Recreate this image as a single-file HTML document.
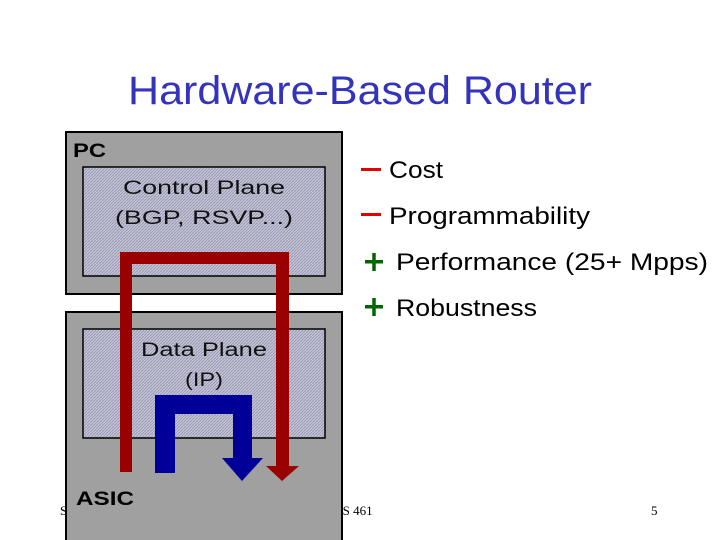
<!DOCTYPE html>
<html><head><meta charset="utf-8"><style>
html,body{margin:0;padding:0;background:#fff;}
svg{display:block;}
</style></head><body>
<svg width="720" height="540" xmlns="http://www.w3.org/2000/svg">
<defs>
<pattern id="h" width="3" height="3" patternUnits="userSpaceOnUse">
<rect width="3" height="3" fill="#c4c4dc"/>
<path d="M0,3 L3,0" stroke="#9a9aac" stroke-width="1"/>
</pattern>
</defs>
<text x="360" y="104" font-family="Liberation Sans, sans-serif" font-size="40" fill="#3333bb" text-anchor="middle" textLength="464" lengthAdjust="spacingAndGlyphs">Hardware-Based Router</text>

<text x="60" y="515" font-family="Liberation Serif, serif" font-size="13" fill="#000">S</text>
<text x="334" y="515" font-family="Liberation Serif, serif" font-size="13" fill="#000">CS 461</text>
<text x="651" y="515" font-family="Liberation Serif, serif" font-size="13" fill="#000">5</text>

<rect x="66" y="132" width="276" height="162" fill="#a0a0a0" stroke="#000" stroke-width="2"/>
<rect x="83" y="167" width="242" height="109" fill="url(#h)" stroke="#000" stroke-width="1.5"/>
<rect x="66" y="312" width="276" height="240" fill="#a0a0a0" stroke="#000" stroke-width="2"/>
<rect x="83" y="329" width="242" height="109" fill="url(#h)" stroke="#000" stroke-width="1.5"/>

<g font-family="Liberation Sans, sans-serif" font-size="19" fill="#000" font-weight="bold">
<text x="73" y="157" textLength="33" lengthAdjust="spacingAndGlyphs">PC</text>
<text x="76" y="505" textLength="58" lengthAdjust="spacingAndGlyphs">ASIC</text>
</g>
<g font-family="Liberation Sans, sans-serif" font-size="19" fill="#111" text-anchor="middle" lengthAdjust="spacingAndGlyphs">
<text x="204" y="194" textLength="162" lengthAdjust="spacingAndGlyphs">Control Plane</text>
<text x="204" y="224" textLength="178" lengthAdjust="spacingAndGlyphs">(BGP, RSVP...)</text>
<text x="204" y="356" textLength="126" lengthAdjust="spacingAndGlyphs">Data Plane</text>
<text x="204" y="386" textLength="38" lengthAdjust="spacingAndGlyphs">(IP)</text>
</g>

<path d="M120,472 L120,252 L289,252 L289,466 L276,466 L276,264 L132,264 L132,472 Z" fill="#990000"/>
<path d="M266,466 L299,466 L282,481 Z" fill="#990000"/>
<path d="M155,473 L155,395 L252,395 L252,458 L233,458 L233,414 L175,414 L175,473 Z" fill="#000099"/>
<path d="M222,458 L263,458 L242,481 Z" fill="#000099"/>

<g font-family="Liberation Sans, sans-serif" font-size="24" fill="#000">
<rect x="361" y="168" width="20" height="3" fill="#e00000"/>
<text x="389" y="178" textLength="54" lengthAdjust="spacingAndGlyphs">Cost</text>
<rect x="361" y="213" width="20" height="3" fill="#e00000"/>
<text x="389" y="224" textLength="201" lengthAdjust="spacingAndGlyphs">Programmability</text>
<rect x="365" y="260" width="18" height="3.5" fill="#006600"/>
<rect x="372.25" y="253" width="3.5" height="18" fill="#006600"/>
<text x="396" y="270" textLength="312" lengthAdjust="spacingAndGlyphs">Performance (25+ Mpps)</text>
<rect x="365" y="305" width="18" height="3.5" fill="#006600"/>
<rect x="372.25" y="298" width="3.5" height="18" fill="#006600"/>
<text x="396" y="316" textLength="141" lengthAdjust="spacingAndGlyphs">Robustness</text>
</g>
</svg>
</body></html>
